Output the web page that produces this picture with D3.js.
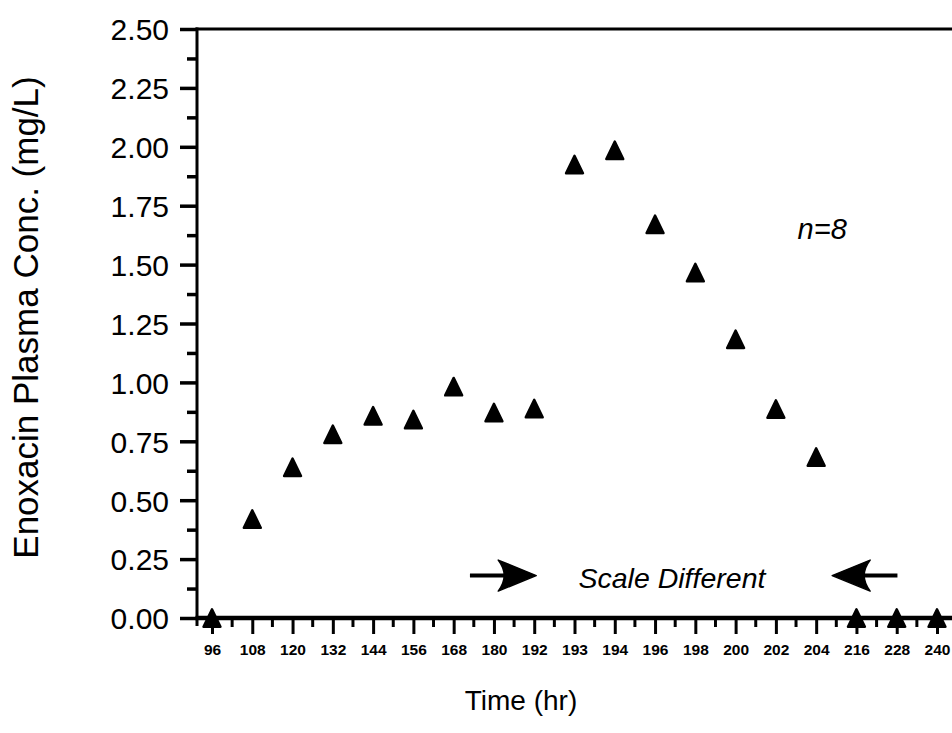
<!DOCTYPE html>
<html>
<head>
<meta charset="utf-8">
<script src="https://cdn.jsdelivr.net/npm/d3@7"></script>
<style>
  html, body { margin: 0; padding: 0; background: #fff; }
  svg { display: block; }
  text { font-family: "Liberation Sans", Arial, Helvetica, sans-serif; fill: #000; }
</style>
</head>
<body>
<svg id="chart" width="952" height="733"></svg>
<script>
// ---- data ----
const categories = ["96","108","120","132","144","156","168","180","192","193","194","196","198","200","202","204","216","228","240"];
const concentration = [0, 0.42, 0.64, 0.78, 0.858, 0.842, 0.982, 0.872, 0.889, 1.925, 1.985, 1.671, 1.466, 1.183, 0.887, 0.683, 0, 0, 0];
const yTicks = [0, 0.25, 0.5, 0.75, 1.0, 1.25, 1.5, 1.75, 2.0, 2.25, 2.5];
const yMinorTicks = [0.125, 0.375, 0.625, 0.875, 1.125, 1.375, 1.625, 1.875, 2.125, 2.375];
const xTitle = "Time (hr)";
const yTitle = "Enoxacin Plasma Conc. (mg/L)";
const noteN = "n=8";
const noteScale = "Scale Different";

// ---- layout ----
const svg = d3.select("#chart");
const mLeft = 197, mRight = 952, mTop = 29, mBottom = 618;

const x = d3.scalePoint().domain(categories).range([212, 937]);
const y = d3.scaleLinear().domain([0, 2.5]).range([mBottom, mTop]);

// y axis major
const yAxis = d3.axisLeft(y).tickValues(yTicks).tickSize(17).tickPadding(11)
  .tickFormat(d3.format(".2f"));
const gy = svg.append("g").attr("transform", `translate(${mLeft},0)`).call(yAxis);
gy.select(".domain").remove();
gy.selectAll(".tick line").attr("stroke", "#000").attr("stroke-width", 3.5);
gy.selectAll(".tick text").style("font-size", "30px").attr("dy", "0.36em");

// y axis minor
const gym = svg.append("g").attr("transform", `translate(${mLeft},0)`)
  .call(d3.axisLeft(y).tickValues(yMinorTicks).tickSize(10).tickFormat(""));
gym.select(".domain").remove();
gym.selectAll(".tick line").attr("stroke", "#000").attr("stroke-width", 3.5);

// x axis major
const xAxis = d3.axisBottom(x).tickSize(16).tickPadding(10);
const gx = svg.append("g").attr("transform", `translate(0,${mBottom})`).call(xAxis);
gx.select(".domain").remove();
gx.selectAll(".tick line").attr("stroke", "#000").attr("stroke-width", 3);
gx.selectAll(".tick text").style("font-size", "15.5px").style("font-weight", "bold");

// x axis minor ticks at midpoints
const mids = categories.slice(0, -1).map((c, i) => (x(c) + x(categories[i + 1])) / 2);
svg.append("g").selectAll("line").data(mids).join("line")
  .attr("x1", d => d).attr("x2", d => d)
  .attr("y1", mBottom).attr("y2", mBottom + 9)
  .attr("stroke", "#000").attr("stroke-width", 3);

// frame lines
svg.append("line").attr("x1", mLeft).attr("x2", mLeft).attr("y1", y(2.5) - 1.5).attr("y2", mBottom + 8)
  .attr("stroke", "#000").attr("stroke-width", 3);
svg.append("line").attr("x1", mLeft - 1.5).attr("x2", mRight).attr("y1", y(0)).attr("y2", y(0))
  .attr("stroke", "#000").attr("stroke-width", 4.5);
svg.append("line").attr("x1", mLeft - 1.5).attr("x2", mRight).attr("y1", y(2.5)).attr("y2", y(2.5))
  .attr("stroke", "#000").attr("stroke-width", 3);

// triangles (bounding-box centred isosceles triangle)
const tri = {
  draw(ctx, size) {
    const h = Math.sqrt(size) / 2;
    ctx.moveTo(0, -h);
    ctx.lineTo(h * 0.97, h);
    ctx.lineTo(-h * 0.97, h);
    ctx.closePath();
  }
};
svg.append("g").selectAll("path").data(categories.map((c, i) => ({c, v: concentration[i]})))
  .join("path")
  .attr("transform", d => `translate(${x(d.c)},${y(d.v)})`)
  .attr("d", d3.symbol().type(tri).size(17.5 * 17.5))
  .attr("fill", "#000").attr("stroke", "#000").attr("stroke-width", 2.4)
  .attr("stroke-linejoin", "round");

// titles
svg.append("text").attr("x", 521).attr("y", 710).attr("text-anchor", "middle")
  .style("font-size", "28px").text(xTitle);
svg.append("text").attr("transform", `translate(38,${(mTop + mBottom) / 2 - 6}) rotate(-90)`)
  .attr("text-anchor", "middle").style("font-size", "35px").text(yTitle);

// annotations
svg.append("text").attr("x", x("204") + 6).attr("y", y(1.61)).attr("text-anchor", "middle")
  .style("font-size", "29px").style("font-style", "italic").text(noteN);
svg.append("text").attr("x", x("193") + 4).attr("y", y(0.127)).attr("text-anchor", "start")
  .style("font-size", "28.5px").style("font-style", "italic").text(noteScale);

const ay = y(0.18);
function arrow(tip, tail, dir) {
  // dir = +1 points right, -1 points left
  const L = 38, H = 15.5, N = 26;
  svg.append("line").attr("x1", tail).attr("x2", tip - dir * 30).attr("y1", ay).attr("y2", ay)
    .attr("stroke", "#000").attr("stroke-width", 4);
  const p = d3.path();
  p.moveTo(tip, ay);
  p.lineTo(tip - dir * L, ay - H);
  p.quadraticCurveTo(tip - dir * N, ay, tip - dir * L, ay + H);
  p.closePath();
  svg.append("path").attr("d", p.toString()).attr("fill", "#000")
    .attr("stroke", "#000").attr("stroke-width", 1.5).attr("stroke-linejoin", "round");
}
arrow(x("192") + 2, x("180") - 24, 1);
arrow(x("204") + 16, x("216") + 41, -1);
</script>
</body>
</html>
